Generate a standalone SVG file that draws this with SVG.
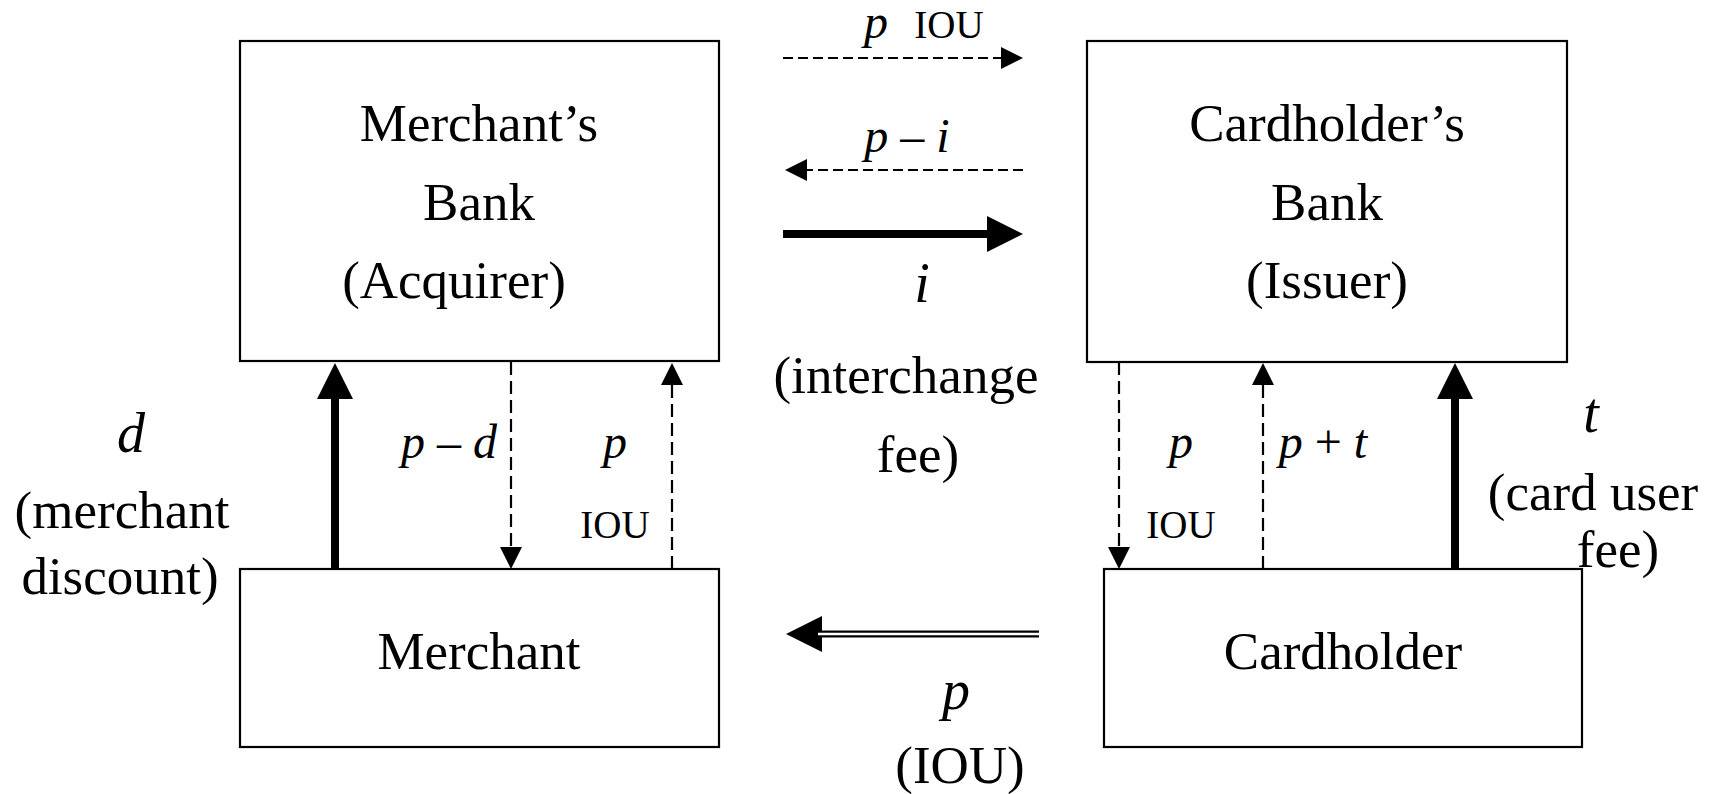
<svg xmlns="http://www.w3.org/2000/svg" width="1710" height="794" viewBox="0 0 1710 794">
<style>
text{font-family:"Liberation Serif","Times New Roman",serif;fill:#000}
.m{font-size:53px;text-anchor:middle}
.v{font-size:56px;font-style:italic;text-anchor:middle}
.e{font-size:48px;text-anchor:middle}
.iou{font-size:39px;text-anchor:middle}
.it{font-style:italic}
.box{fill:#fff;stroke:#000;stroke-width:2.2}
.dh{stroke:#000;stroke-width:2.2;stroke-dasharray:10 5;fill:none}
.dv{stroke:#000;stroke-width:2.2;stroke-dasharray:13 6;fill:none}
.th{stroke:#000;stroke-width:8;fill:none}
</style>
<defs>
<marker id="hs" markerUnits="userSpaceOnUse" viewBox="0 -12 24 24" markerWidth="24" markerHeight="24" refX="1" refY="0" orient="auto"><path d="M0,-11 L22,0 L0,11 z" fill="#000"/></marker>
<marker id="hb" markerUnits="userSpaceOnUse" viewBox="0 -19 38 38" markerWidth="38" markerHeight="38" refX="1" refY="0" orient="auto"><path d="M0,-18 L36,0 L0,18 z" fill="#000"/></marker>
</defs>
<rect width="1710" height="794" fill="#fff"/>
<g id="merchants-bank">
<rect class="box" x="240" y="41" width="479" height="320"/>
<text class="m" x="479" y="141">Merchant’s</text>
<text class="m" x="479" y="220">Bank</text>
<text class="m" x="454" y="298">(Acquirer)</text>
</g>
<g id="cardholders-bank">
<rect class="box" x="1087" y="41" width="480" height="321"/>
<text class="m" x="1327" y="141">Cardholder’s</text>
<text class="m" x="1327" y="220">Bank</text>
<text class="m" x="1327" y="298">(Issuer)</text>
</g>
<g id="merchant">
<rect class="box" x="240" y="569" width="479" height="178"/>
<text class="m" x="479" y="669">Merchant</text>
</g>
<g id="cardholder">
<rect class="box" x="1104" y="569" width="478" height="178"/>
<text class="m" x="1343" y="669">Cardholder</text>
</g>
<g id="connectors">
<path class="dh" d="M783,58 H1002" marker-end="url(#hs)"/>
<path class="dh" d="M1023,170 H806" marker-end="url(#hs)"/>
<path class="th" d="M783,234 H988" marker-end="url(#hb)"/>
<path stroke="#000" stroke-width="7" fill="none" d="M1039,634 H821" marker-end="url(#hb)"/>
<path stroke="#fff" stroke-width="2.4" fill="none" d="M1039,634 H818"/>
<path class="th" d="M335,569 V398" marker-end="url(#hb)"/>
<path class="dv" d="M511,362 V548" marker-end="url(#hs)"/>
<path class="dv" d="M672,569 V384" marker-end="url(#hs)"/>
<path class="dv" d="M1119,362 V548" marker-end="url(#hs)"/>
<path class="dv" d="M1263,569 V384" marker-end="url(#hs)"/>
<path class="th" d="M1455,569 V398" marker-end="url(#hb)"/>
</g>
<g id="labels">
<text class="e it" x="876" y="38">p</text>
<text class="iou" x="949" y="38">IOU</text>
<text class="e" x="907" y="152"><tspan class="it">p</tspan> – <tspan class="it">i</tspan></text>
<text class="v" x="922" y="302">i</text>
<text class="m" x="906" y="393">(interchange</text>
<text class="m" x="918" y="472">fee)</text>
<text class="v" x="956" y="709">p</text>
<text class="m" x="960" y="783">(IOU)</text>
<text class="v" x="131" y="452">d</text>
<text class="m" x="122" y="528">(merchant</text>
<text class="m" x="120" y="594">discount)</text>
<text class="e" x="449" y="458"><tspan class="it">p</tspan> – <tspan class="it">d</tspan></text>
<text class="e it" x="615" y="458">p</text>
<text class="iou" x="615" y="538">IOU</text>
<text class="e it" x="1181" y="458">p</text>
<text class="iou" x="1181" y="538">IOU</text>
<text class="e" x="1323" y="458"><tspan class="it">p</tspan> + <tspan class="it">t</tspan></text>
<text class="v" x="1591" y="432">t</text>
<text class="m" x="1593" y="510">(card user</text>
<text class="m" x="1618" y="567">fee)</text>
</g>
</svg>
